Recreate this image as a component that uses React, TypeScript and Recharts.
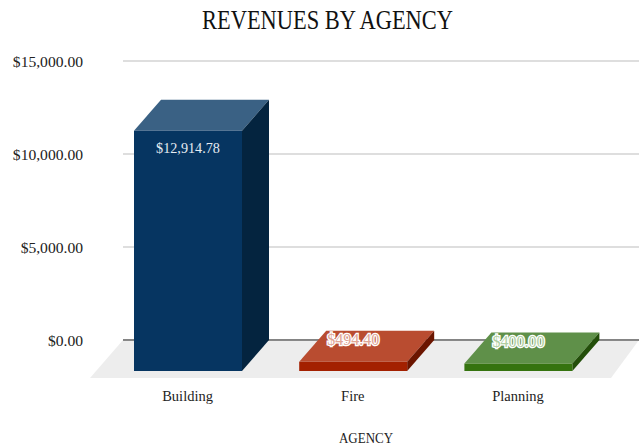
import { Bar, BarChart, CartesianGrid, LabelList, ReferenceArea, XAxis, YAxis } from "recharts";

const agencies = ["Building", "Fire", "Planning"];
const revenues = [12914.78, 494.4, 400];
const yTicks = [0, 5000, 10000, 15000];
const topColors = ["#3a6184", "#b94c30", "#5f9049"];
const frontColors = ["#063561", "#a32000", "#35730f"];
const sideColors = ["#04243f", "#6b1500", "#234f0a"];
const labelColors = ["#e6ecf2", "#e0a595", "#b0cfa2"];

const chartData = agencies.map((agency, i) => ({ agency, revenue: revenues[i] }));

const FONT = "'Liberation Serif', serif";
const DEPTH_X = 27;
const DEPTH_Y = 31;
const PAD_LEFT = 9;
const PAD_RIGHT = 11.4;

const money = (v: number) =>
  "$" + v.toLocaleString("en-US", { minimumFractionDigits: 2, maximumFractionDigits: 2 });

// the bar rect from recharts is the back face, the front is pushed down and left
const Box3D = (props: any) => {
  const { x, y, width, height, index } = props;
  const fx = x - DEPTH_X;
  const fy = y + DEPTH_Y;
  return (
    <g>
      <polygon
        points={`${fx},${fy} ${x},${y} ${x + width},${y} ${fx + width},${fy}`}
        fill={topColors[index]}
      />
      <polygon
        points={`${fx + width},${fy} ${x + width},${y} ${x + width},${y + height} ${fx + width},${fy + height}`}
        fill={sideColors[index]}
      />
      <rect x={fx} y={fy} width={width} height={height} fill={frontColors[index]} />
    </g>
  );
};

// floor plus the zero line, both have to sit behind the boxes
const Floor = (props: any) => {
  const { x, y, width, height } = props;
  const base = y + height;
  const left = x - PAD_LEFT;
  const right = x + width + PAD_RIGHT;
  return (
    <g>
      <polygon
        points={`${left},${base} ${right},${base} ${right - 28},${base + 38} ${left - 33},${base + 38}`}
        fill="#ededed"
      />
      <line x1={left} x2={right} y1={base} y2={base} stroke="#666666" strokeWidth={1.5} />
    </g>
  );
};

const ValueLabel = (props: any) => {
  const { x, y, width, height, value, index } = props;
  const cx = x + width / 2 - DEPTH_X;
  if (height > 100) {
    return (
      <text x={cx} y={y + 53} textAnchor="middle" fontSize={14.2} fontFamily={FONT} fill={labelColors[index]}>
        {money(value)}
      </text>
    );
  }
  return (
    <text
      x={cx}
      y={y + 14}
      textAnchor="middle"
      fontSize={16}
      fontFamily={FONT}
      fill={labelColors[index]}
      stroke="#ffffff"
      strokeWidth={2.6}
      paintOrder="stroke"
    >
      {money(value)}
    </text>
  );
};

const AgencyTick = (props: any) => {
  const { x, payload } = props;
  return (
    <text x={x - DEPTH_X} y={401} textAnchor="middle" fontSize={14.5} fontFamily={FONT} fill="#222222">
      {payload.value}
    </text>
  );
};

export default function App() {
  return (
    <div style={{ position: "absolute", left: 0, top: 0, width: 639, height: 448, background: "#ffffff" }}>
      <BarChart
        width={639}
        height={448}
        data={chartData}
        margin={{ top: 61, right: 0, bottom: 48, left: 8 }}
        style={{ position: "absolute", left: 0, top: 0 }}
      >
        <text
          x={327.5}
          y={29}
          textAnchor="middle"
          fontSize={27}
          fontFamily={FONT}
          fill="#111111"
          textLength={251}
          lengthAdjust="spacingAndGlyphs"
        >
          REVENUES BY AGENCY
        </text>
        <CartesianGrid vertical={false} stroke="#bdbdbd" strokeWidth={1} />
        <ReferenceArea y1={0} y2={15000} shape={<Floor />} fill="none" stroke="none" ifOverflow="visible" />
        <YAxis
          type="number"
          domain={[0, 15000]}
          ticks={yTicks}
          width={115}
          tickFormatter={money}
          axisLine={false}
          tickLine={false}
          tickMargin={34}
          tick={{ fontSize: 15.6, fontFamily: FONT, fill: "#222222" }}
        />
        <XAxis
          dataKey="agency"
          height={60}
          padding={{ left: PAD_LEFT, right: PAD_RIGHT }}
          tick={<AgencyTick />}
          tickLine={false}
          axisLine={false}
          interval={0}
        />
        <Bar dataKey="revenue" barSize={108} shape={<Box3D />} isAnimationActive={false}>
          <LabelList dataKey="revenue" content={<ValueLabel />} />
        </Bar>
        <text
          x={366}
          y={443}
          textAnchor="middle"
          fontSize={14.5}
          fontFamily={FONT}
          fill="#222222"
          textLength={54}
          lengthAdjust="spacingAndGlyphs"
        >
          AGENCY
        </text>
      </BarChart>
    </div>
  );
}
